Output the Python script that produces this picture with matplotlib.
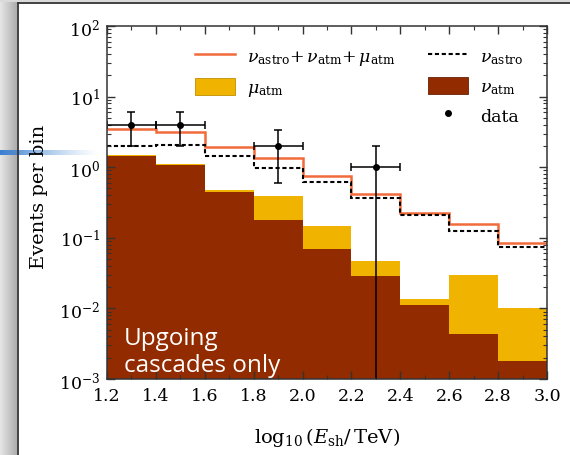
import matplotlib
matplotlib.use('Agg')
import matplotlib.pyplot as plt
import numpy as np
from matplotlib.lines import Line2D
from matplotlib.patches import Patch, Rectangle
from matplotlib.ticker import MultipleLocator, LogLocator, NullFormatter

plt.rcParams['font.family'] = 'DejaVu Serif'
plt.rcParams['mathtext.fontset'] = 'dejavuserif'

# bins in log10(E_sh / TeV)
edges = [1.2, 1.4, 1.6, 1.8, 2.0, 2.2, 2.4, 2.6, 2.8, 3.0]

# expected events per bin
nu_atm = [1.44, 1.07, 0.445, 0.179, 0.069, 0.0288, 0.0112, 0.0043, 0.0018]
mu_atm = [0.05, 0.04, 0.03, 0.21, 0.078, 0.018, 0.0024, 0.0254, 0.0083]
nu_astro = [2.0, 2.06, 1.44, 0.975, 0.61, 0.37, 0.21, 0.125, 0.074]

# observed events
data_x = [1.3, 1.5, 1.9, 2.3]
data_y = [4.0, 4.0, 2.0, 1.0]
data_err = [2.0, 2.0, 1.41, 1.0]
data_xerr = [0.1, 0.1, 0.1, 0.1]

c_nu = '#922b00'
c_mu = '#f0b400'
c_tot = '#f26b3a'

bkg = np.array(nu_atm) + np.array(mu_atm)
total = bkg + np.array(nu_astro)

fig = plt.figure(figsize=(5.7, 4.56), dpi=100)

# slide background (screenshot frame)
bg = fig.add_axes([0, 0, 1, 1], zorder=-1)
shade = np.linspace(0.9, 0.68, 30)
bg.imshow(np.tile(shade, (2, 1)), cmap='gray', vmin=0, vmax=1,
          extent=[0, 17, 456, 0], aspect='auto')
bg.add_patch(Rectangle((0, 0), 570, 3, color='#dadada', lw=0))
blue = np.zeros((1, 100, 4))
blue[0, :, 0] = 0.22
blue[0, :, 1] = 0.5
blue[0, :, 2] = 0.82
blue[0, :, 3] = np.linspace(1, 0, 100) ** 1.3
bg.imshow(blue, extent=[0, 100, 156, 151], aspect='auto')
bg.plot([17.5, 17.5], [3.5, 456], color='#333333', lw=1.3)
bg.plot([17.5, 570], [3.5, 3.5], color='#333333', lw=1.3)
bg.set_xlim(0, 570)
bg.set_ylim(456, 0)
bg.axis('off')

ax = fig.add_axes([107 / 570, 76 / 456, 440 / 570, 353 / 456])
ax.set_yscale('log')

ax.stairs(bkg, edges, baseline=1e-5, fill=True, color=c_mu, lw=0)
ax.stairs(nu_atm, edges, baseline=1e-5, fill=True, color=c_nu, lw=0)
ax.stairs(total, edges, baseline=None, color=c_tot, lw=1.8)
ax.stairs(nu_astro, edges, baseline=None, color='k', lw=1.5,
          linestyle=(0, (2.0, 1.3)))
ax.errorbar(data_x, data_y, xerr=data_xerr, yerr=data_err, fmt='o',
            color='k', ms=4, elinewidth=1.1, capsize=3, capthick=1.1)

ax.text(0.038, 0.006, 'Upgoing\ncascades only', transform=ax.transAxes,
        family='Open Sans', fontsize=17.5, color='white', ha='left',
        va='bottom', linespacing=1.15)

ax.set_xlim(1.2, 3.0)
ax.set_ylim(1e-3, 1e2)
ax.xaxis.set_major_locator(MultipleLocator(0.2))
ax.xaxis.set_minor_locator(MultipleLocator(0.1))
ax.yaxis.set_major_locator(LogLocator(base=10, numticks=10))
ax.yaxis.set_minor_locator(LogLocator(base=10, subs=np.arange(2, 10), numticks=20))
ax.yaxis.set_minor_formatter(NullFormatter())
ax.tick_params(which='both', direction='in', top=True, right=True,
               labelsize=12.5, color='#333333')
ax.tick_params(which='major', length=6, width=1)
ax.tick_params(which='minor', length=3, width=0.8)
ax.tick_params(axis='x', pad=6)
ax.tick_params(axis='y', pad=5)
for s in ax.spines.values():
    s.set_color('#333333')
    s.set_linewidth(1.1)

ax.set_ylabel('Events per bin', fontsize=14)
ax.yaxis.set_label_coords(-0.135, 0.518)
ax.set_xlabel(r'$\log_{10}(E_{\rm sh}/\,{\rm TeV})$', fontsize=14, labelpad=15)

# legend, two columns
h_tot = Line2D([], [], color=c_tot, lw=1.8)
h_mu = Patch(facecolor=c_mu, edgecolor='#c09000', lw=0.6)
h_astro = Line2D([], [], color='k', lw=1.5, linestyle=(0, (2.0, 1.3)))
h_nu = Patch(facecolor=c_nu, edgecolor='#6a1f00', lw=0.6)
h_data = Line2D([], [], color='k', marker='o', ms=4, lw=0)

leg_kw = dict(frameon=False, fontsize=12.5, handlelength=2.3, handleheight=1.15,
              handletextpad=0.7, labelspacing=0.6, borderpad=0,
              borderaxespad=0, loc='upper left')
leg1 = ax.legend([h_tot, h_mu],
                 [r'$\nu_{\rm astro}{+}\,\nu_{\rm atm}{+}\,\mu_{\rm atm}$', r'$\mu_{\rm atm}$'],
                 bbox_to_anchor=(195 / 570, 1 - 48 / 456),
                 bbox_transform=fig.transFigure, **leg_kw)
ax.add_artist(leg1)
ax.legend([h_astro, h_nu, h_data],
          [r'$\nu_{\rm astro}$', r'$\nu_{\rm atm}$', 'data'],
          bbox_to_anchor=(428 / 570, 1 - 48 / 456),
          bbox_transform=fig.transFigure, **leg_kw)

fig.savefig('out.png', dpi=100, facecolor='white')
